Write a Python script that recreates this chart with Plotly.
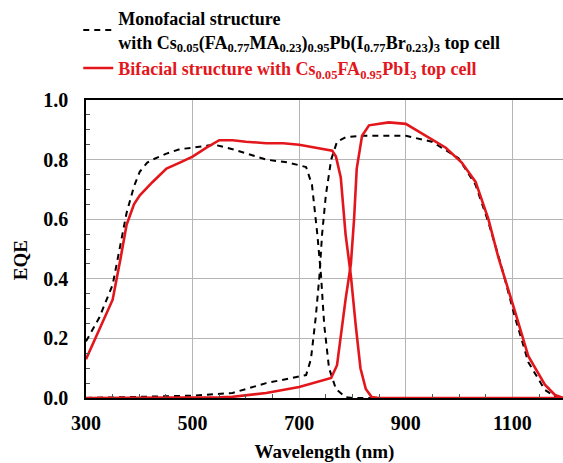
import plotly.graph_objects as go

# Monofacial (dashed black): top cell then bottom cell
mono_top_wl = [300, 325, 350, 365, 376, 390, 401, 415, 425, 451, 476, 500, 541, 575, 638, 680, 713, 724, 734, 741, 747, 756, 769, 787, 800, 850, 900, 1000, 1100, 1195]
mono_top_eqe = [0.19, 0.27, 0.38, 0.52, 0.62, 0.71, 0.76, 0.79, 0.80, 0.82, 0.835, 0.84, 0.85, 0.835, 0.80, 0.79, 0.775, 0.715, 0.55, 0.41, 0.245, 0.10, 0.03, 0.003, 0.0, 0.0, 0.0, 0.0, 0.0, 0.0]
mono_bot_wl = [300, 400, 450, 500, 575, 638, 680, 713, 722, 731, 738, 743, 750, 760, 771, 787, 820, 900, 949, 999, 1031, 1055, 1079, 1105, 1130, 1161, 1180, 1195]
mono_bot_eqe = [0.0, 0.003, 0.005, 0.008, 0.017, 0.05, 0.065, 0.077, 0.13, 0.27, 0.41, 0.55, 0.68, 0.80, 0.86, 0.875, 0.88, 0.88, 0.86, 0.805, 0.715, 0.59, 0.445, 0.27, 0.12, 0.027, 0.005, 0.0]

# Bifacial (solid red): top cell then bottom cell
bi_top_wl = [300, 325, 350, 365, 376, 390, 401, 425, 451, 476, 500, 526, 550, 575, 600, 638, 670, 700, 730, 762, 769, 778, 787, 797, 806, 815, 825, 836, 850, 900, 1000, 1100, 1195]
bi_top_eqe = [0.13, 0.23, 0.33, 0.47, 0.58, 0.65, 0.68, 0.725, 0.77, 0.79, 0.81, 0.84, 0.865, 0.865, 0.86, 0.855, 0.855, 0.85, 0.84, 0.83, 0.81, 0.74, 0.55, 0.41, 0.245, 0.10, 0.03, 0.003, 0.0, 0.0, 0.0, 0.0, 0.0]
bi_bot_wl = [300, 450, 550, 575, 638, 700, 760, 771, 780, 787, 797, 803, 808, 818, 831, 868, 900, 937, 975, 1005, 1031, 1055, 1074, 1105, 1130, 1161, 1180, 1195]
bi_bot_eqe = [0.0, 0.0, 0.002, 0.004, 0.017, 0.037, 0.067, 0.11, 0.245, 0.33, 0.45, 0.60, 0.77, 0.88, 0.915, 0.925, 0.92, 0.88, 0.84, 0.79, 0.725, 0.60, 0.47, 0.29, 0.14, 0.045, 0.01, 0.0]

mono_name = ("Monofacial structure<br>with Cs<sub>0.05</sub>(FA<sub>0.77</sub>MA<sub>0.23</sub>)<sub>0.95</sub>"
             "Pb(I<sub>0.77</sub>Br<sub>0.23</sub>)<sub>3</sub> top cell")
bi_name = ("<span style='color:#e3161c'>Bifacial structure with Cs<sub>0.05</sub>FA<sub>0.95</sub>"
           "PbI<sub>3</sub> top cell</span>")

RED = "#e3161c"
SERIF = "Liberation Serif"
fig = go.Figure()
fig.add_trace(go.Scatter(x=mono_top_wl + [None] + mono_bot_wl, y=mono_top_eqe + [None] + mono_bot_eqe,
                         mode="lines", name=mono_name,
                         line=dict(color="black", width=2, dash="6px,5px")))
fig.add_trace(go.Scatter(x=bi_top_wl + [None] + bi_bot_wl, y=bi_top_eqe + [None] + bi_bot_eqe,
                         mode="lines", name=bi_name,
                         line=dict(color=RED, width=2.6)))

fig.update_layout(
    width=563, height=463,
    margin=dict(l=86, r=0, t=100, b=65, autoexpand=False),
    paper_bgcolor="white", plot_bgcolor="white",
    font=dict(family=SERIF, size=18, color="black"),
    showlegend=True,
    legend=dict(xref="container", yref="container", x=0.139, y=1.052, xanchor="left", yanchor="top",
                font=dict(family=SERIF, size=18, color="black", weight="bold"),
                bgcolor="rgba(0,0,0,0)", tracegroupgap=0, itemwidth=30),
    xaxis=dict(range=[300, 1195], tick0=300, dtick=200, showgrid=True, gridcolor="#b5b5b5", gridwidth=1,
               showline=True, linecolor="black", linewidth=1.5, mirror=True, ticks="", zeroline=False,
               tickfont=dict(family=SERIF, size=20, color="black", weight="bold"), ticklabelstandoff=6,
               title=dict(text="Wavelength (nm)", font=dict(family=SERIF, size=19, weight="bold"), standoff=13),
               minor=dict(dtick=50, ticks="inside", ticklen=4, tickcolor="#555", showgrid=False)),
    yaxis=dict(range=[0, 1.0], dtick=0.2, tickformat=".1f", showgrid=True, gridcolor="#b5b5b5", gridwidth=1,
               showline=True, linecolor="black", linewidth=1.5, mirror=False, ticks="", zeroline=False,
               tickfont=dict(family=SERIF, size=20, color="black", weight="bold"), ticklabelstandoff=12,
               minor=dict(dtick=0.05, ticks="inside", ticklen=4, tickcolor="#555", showgrid=False)),
    annotations=[dict(text="EQE", xref="paper", yref="paper", x=-0.138, y=0.463, textangle=-90,
                      xanchor="center", yanchor="middle",
                      showarrow=False, font=dict(family=SERIF, size=19, color="black", weight="bold"))],
)
fig.write_html("out.html", config={"displayModeBar": False},
               post_script="document.body.style.margin='0';document.body.style.overflow='hidden';")
